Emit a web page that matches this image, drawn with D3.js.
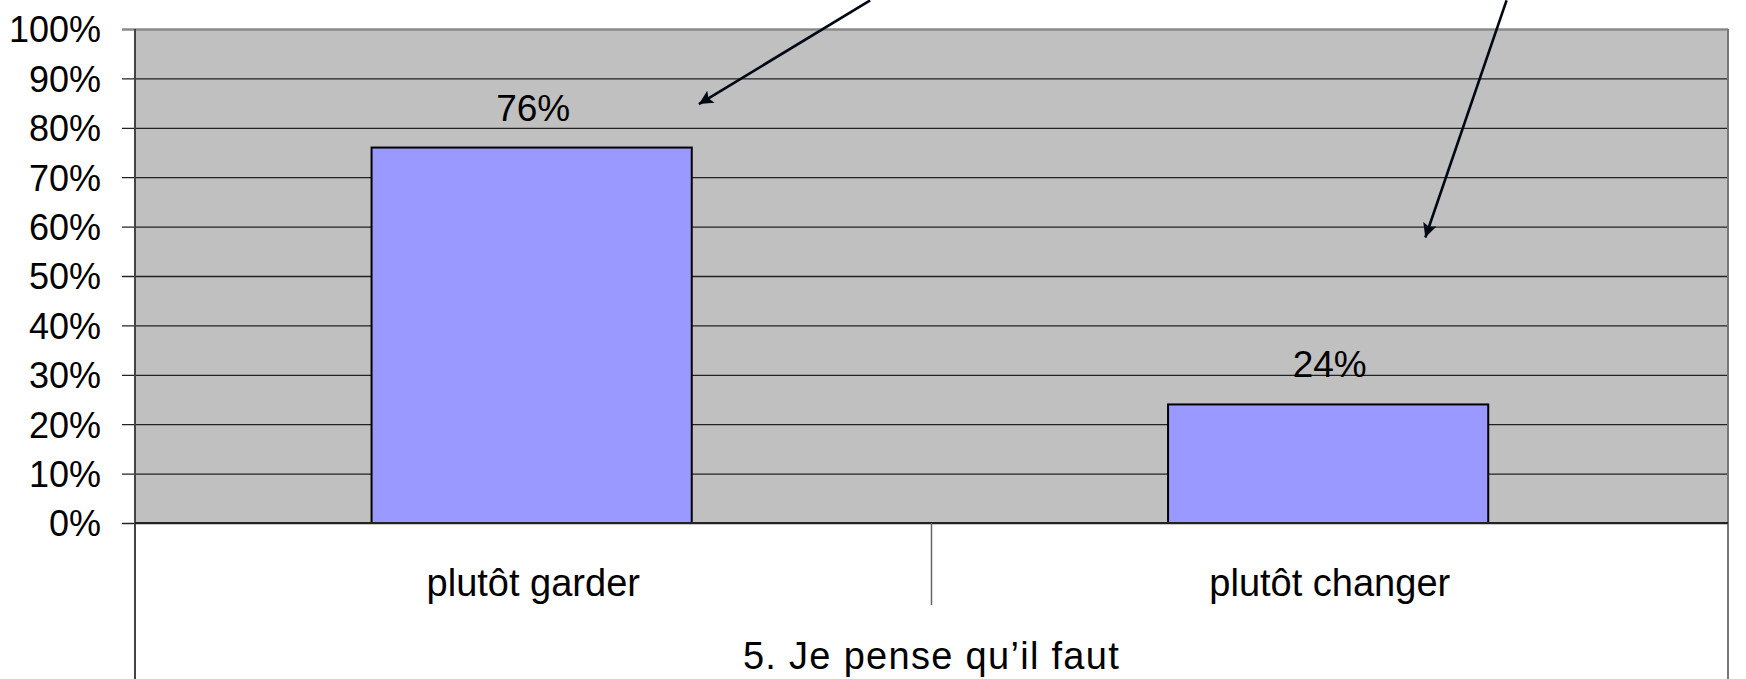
<!DOCTYPE html>
<html>
<head>
<meta charset="utf-8">
<script src="https://cdn.jsdelivr.net/npm/d3@7"></script>
<style>
  body { margin: 0; background: #fff; }
  svg { display: block; font-family: "Liberation Sans", Arial, sans-serif; }
</style>
</head>
<body>
<svg id="chart"></svg>
<script>
// chart values
const categories = ['plutôt garder', 'plutôt changer'];
const values = [76, 24];
const yTicks = [0, 10, 20, 30, 40, 50, 60, 70, 80, 90, 100];
const axisTitle = '5. Je pense qu\u2019il faut';
// annotation arrows: [fraction across category band, value %]
const arrowNotes = [
  { cat: 'plutôt garder', from: [0.923, 105.8], to: [0.708, 84.8] },
  { cat: 'plutôt changer', from: [0.722, 105.8], to: [0.62, 57.8] }
];

const w = 1746, h = 679;
const m = { top: 29, right: 18, left: 135 };
const plotBottom = 523;
const plotW = w - m.left - m.right;

const svg = d3.select('#chart').attr('width', w).attr('height', h);

const x = d3.scaleBand().domain(categories).range([m.left, m.left + plotW]).padding(0);
const y = d3.scaleLinear().domain([0, 100]).range([plotBottom, m.top]);
const bw = x.bandwidth();

/* plot background */
svg.append('rect')
  .attr('x', m.left).attr('y', m.top)
  .attr('width', plotW).attr('height', plotBottom - m.top)
  .attr('fill', '#c0c0c0');

/* gridlines + y axis */
const yAxis = d3.axisLeft(y).tickValues(yTicks).tickFormat(d => d + '%').tickSize(0).tickPadding(0);
const gy = svg.append('g').attr('transform', `translate(${m.left},0)`).call(yAxis);
gy.select('.domain').remove();
gy.selectAll('.tick line')
  .attr('x1', -13).attr('x2', plotW)
  .attr('stroke', d => d === 100 ? '#8a8a8a' : '#222')
  .attr('stroke-width', d => d === 100 ? 2.5 : 1.3);
gy.selectAll('.tick text')
  .attr('x', -34).attr('dy', '0.36em')
  .attr('font-size', 36).attr('fill', '#000')
  .attr('font-family', '"Liberation Sans", Arial, sans-serif');

/* bars */
svg.selectAll('rect.bar').data(values).enter()
  .append('rect').attr('class', 'bar')
  .attr('x', (d, i) => x(categories[i]) + bw * 0.297)
  .attr('y', d => y(d))
  .attr('width', bw * 0.402)
  .attr('height', d => y(0) - y(d))
  .attr('fill', '#9999ff')
  .attr('stroke', '#000').attr('stroke-width', 2);

/* value labels */
svg.selectAll('text.val').data(values).enter()
  .append('text').attr('class', 'val')
  .attr('x', (d, i) => x(categories[i]) + bw / 2)
  .attr('y', d => y(d) - 27)
  .attr('text-anchor', 'middle')
  .attr('font-size', 37)
  .text(d => d + '%');

/* frame lines */
svg.append('line')
  .attr('x1', m.left).attr('x2', m.left).attr('y1', m.top).attr('y2', h)
  .attr('stroke', '#444').attr('stroke-width', 2);
svg.append('line')
  .attr('x1', m.left + plotW).attr('x2', m.left + plotW).attr('y1', m.top).attr('y2', h)
  .attr('stroke', '#777').attr('stroke-width', 2);
svg.append('line')
  .attr('x1', m.left).attr('x2', m.left + plotW).attr('y1', y(0)).attr('y2', y(0))
  .attr('stroke', '#222').attr('stroke-width', 2);

/* category dividers + labels */
svg.selectAll('line.div').data(categories.slice(1)).enter()
  .append('line').attr('class', 'div')
  .attr('x1', d => x(d)).attr('x2', d => x(d))
  .attr('y1', y(0)).attr('y2', 605)
  .attr('stroke', '#666').attr('stroke-width', 1.5);

svg.selectAll('text.cat').data(categories).enter()
  .append('text').attr('class', 'cat')
  .attr('x', d => x(d) + bw / 2)
  .attr('y', 596)
  .attr('text-anchor', 'middle')
  .attr('font-size', 38)
  .text(d => d);

svg.append('text')
  .attr('x', m.left + plotW / 2)
  .attr('y', 669)
  .attr('text-anchor', 'middle')
  .attr('font-size', 38)
  .attr('letter-spacing', 1.3)
  .text(axisTitle);

/* annotation arrows */
svg.append('defs').append('marker')
  .attr('id', 'head')
  .attr('viewBox', '0 0 10 10')
  .attr('refX', 10).attr('refY', 5)
  .attr('markerWidth', 20).attr('markerHeight', 14)
  .attr('markerUnits', 'userSpaceOnUse')
  .attr('orient', 'auto')
  .append('path').attr('d', 'M0,0 L10,5 L0,10 L2,5 Z').attr('fill', '#000814');

svg.selectAll('line.arrow').data(arrowNotes).enter()
  .append('line').attr('class', 'arrow')
  .attr('x1', d => x(d.cat) + bw * d.from[0])
  .attr('y1', d => y(d.from[1]))
  .attr('x2', d => x(d.cat) + bw * d.to[0])
  .attr('y2', d => y(d.to[1]))
  .attr('stroke', '#000814').attr('stroke-width', 2.6)
  .attr('marker-end', 'url(#head)');
</script>
</body>
</html>
